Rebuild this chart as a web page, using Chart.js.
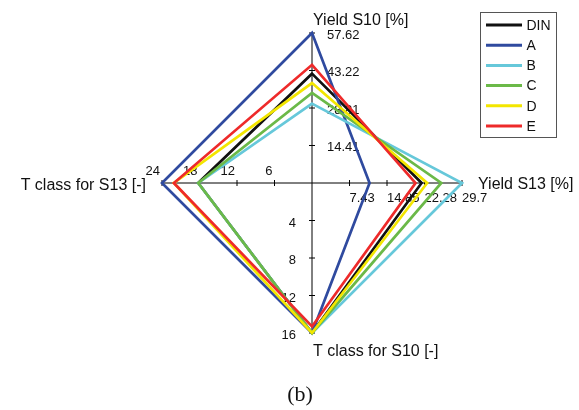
<!DOCTYPE html>
<html>
<head>
<meta charset="utf-8">
<script src="https://cdn.jsdelivr.net/npm/chart.js@4.4.1/dist/chart.umd.min.js"></script>
<style>
  html, body { margin: 0; padding: 0; background: #fff; }
  #wrap { width: 579px; height: 410px; }
</style>
</head>
<body>
<div id="wrap"><canvas id="radar" width="579" height="410"></canvas></div>
<script>
// axes, clockwise from the top
const axisTitles = ["Yield S10 [%]", "Yield S13 [%]", "T class for S10 [-]", "T class for S13 [-]"];
const axisMax = [57.62, 29.7, 16, 24];
const ticksTop = [14.41, 28.81, 43.22, 57.62];
const ticksRight = [7.43, 14.85, 22.28, 29.7];
const ticksBottom = [4, 8, 12, 16];
const ticksLeft = [6, 12, 18, 24];
const axisTicks = [ticksTop, ticksRight, ticksBottom, ticksLeft];

// series values, in axis units: [Yield S10, Yield S13, T class S10, T class S13]
const seriesNames = ["DIN", "A", "B", "C", "D", "E"];
const valDIN = [42.0, 21.7, 16, 18.2];
const valA = [57.62, 11.4, 16, 24];
const valB = [30.5, 29.7, 16, 18.2];
const valC = [34.6, 25.6, 16, 18.2];
const valD = [38.4, 22.8, 16, 22.1];
const valE = [45.4, 20.5, 15.3, 22.1];
const seriesValues = [valDIN, valA, valB, valC, valD, valE];
const seriesColors = ["#111111", "#2f4a9f", "#66c8da", "#6bb948", "#f3e600", "#ee2a2a"];

const FONT = "'Liberation Sans', Arial, sans-serif";

// every axis has its own range, so each value is drawn as a share of its axis
const datasets = seriesNames.map((name, k) => ({
  label: name,
  data: seriesValues[k].map((v, i) => v / axisMax[i]),
  borderColor: seriesColors[k],
  backgroundColor: seriesColors[k],
  borderWidth: 2.7,
  borderJoinStyle: "miter",
  fill: false,
  pointRadius: 0,
  pointHoverRadius: 0,
  order: seriesNames.length - k, // later series painted on top
}));

const axisDecor = {
  id: "axisDecor",
  beforeDatasetsDraw(chart) {
    const ctx = chart.ctx;
    const scale = chart.scales.r;
    ctx.save();
    ctx.strokeStyle = "#000";
    ctx.lineWidth = 1;
    ctx.fillStyle = "#111";
    ctx.font = "13px " + FONT;
    ctx.textBaseline = "middle";
    axisTicks.forEach((list, i) => {
      list.forEach((t) => {
        const d = scale.getDistanceFromCenterForValue(t / axisMax[i]);
        const p = scale.getPointPosition(i, d);
        ctx.beginPath();
        if (i % 2 === 0) {
          ctx.moveTo(p.x - 3, p.y);
          ctx.lineTo(p.x + 3, p.y);
        } else {
          ctx.moveTo(p.x, p.y - 3);
          ctx.lineTo(p.x, p.y + 3);
        }
        ctx.stroke();
        if (i === 0) {
          ctx.textAlign = "left";
          ctx.fillText(String(t), p.x + 15, p.y + 2);
        } else if (i === 1) {
          ctx.textAlign = "left";
          ctx.fillText(String(t), p.x, p.y + 15);
        } else if (i === 2) {
          ctx.textAlign = "right";
          ctx.fillText(String(t), p.x - 16, p.y + 2.5);
        } else {
          ctx.textAlign = "right";
          ctx.fillText(String(t), p.x - 2, p.y - 12);
        }
      });
    });
    ctx.restore();
  },
  afterDraw(chart) {
    const ctx = chart.ctx;
    const scale = chart.scales.r;
    const cx = scale.xCenter;
    const cy = scale.yCenter;
    const R = scale.drawingArea;
    ctx.save();
    ctx.fillStyle = "#111";
    ctx.textBaseline = "middle";
    ctx.font = "16px " + FONT;
    ctx.textAlign = "left";
    ctx.fillText(axisTitles[0], cx + 1, cy - R - 12);
    ctx.fillText(axisTitles[1], cx + R + 16, cy + 2);
    ctx.fillText(axisTitles[2], cx + 1, cy + R + 19);
    ctx.textAlign = "right";
    ctx.fillText(axisTitles[3], cx - R - 16, cy + 3);

    // legend box
    ctx.strokeStyle = "#555";
    ctx.lineWidth = 1;
    ctx.strokeRect(480.5, 12.5, 76, 125);
    ctx.font = "14px " + FONT;
    ctx.textAlign = "left";
    chart.data.datasets.forEach((ds, k) => {
      const y = 25 + k * 20.2;
      ctx.strokeStyle = ds.borderColor;
      ctx.lineWidth = 3;
      ctx.beginPath();
      ctx.moveTo(486, y);
      ctx.lineTo(522, y);
      ctx.stroke();
      ctx.fillText(ds.label, 526.5, y + 1);
    });

    ctx.font = "22px 'Liberation Serif', 'Times New Roman', serif";
    ctx.textAlign = "center";
    ctx.fillText("(b)", 300, 395);
    ctx.restore();
  },
};

new Chart(document.getElementById("radar"), {
  type: "radar",
  data: {
    labels: axisTitles,
    datasets: datasets,
  },
  options: {
    responsive: false,
    animation: false,
    layout: {
      padding: { left: 162, right: 117, top: 33, bottom: 77 },
    },
    plugins: {
      legend: { display: false },
      tooltip: { enabled: false },
    },
    elements: {
      line: { tension: 0 },
    },
    scales: {
      r: {
        min: 0,
        max: 1,
        ticks: { display: false },
        grid: { display: false },
        pointLabels: { display: false },
        angleLines: { display: true, color: "#000", lineWidth: 1 },
      },
    },
  },
  plugins: [axisDecor],
});
</script>
</body>
</html>
